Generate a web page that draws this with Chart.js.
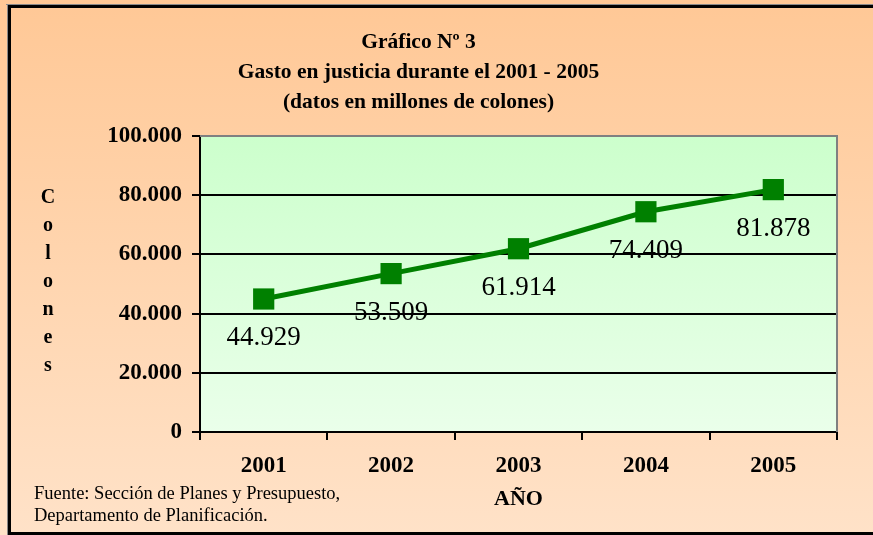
<!DOCTYPE html>
<html>
<head>
<meta charset="utf-8">
<script src="https://cdn.jsdelivr.net/npm/chart.js@4/dist/chart.umd.min.js"></script>
<style>
  html, body { margin: 0; padding: 0; background: #fff; }
  #wrap { width: 873px; height: 535px; }
</style>
</head>
<body>
<div id="wrap"><canvas id="gastoChart" width="873" height="535"></canvas></div>
<script>
// data
const years = ['2001', '2002', '2003', '2004', '2005'];
const gasto = [44929, 53509, 61914, 74409, 81878];
const gastoLabels = ['44.929', '53.509', '61.914', '74.409', '81.878'];
const yTickLabels = ['0', '20.000', '40.000', '60.000', '80.000', '100.000'];
const titleLines = ['Gráfico Nº 3', 'Gasto en justicia durante el 2001 - 2005', '(datos en millones de colones)'];
const yAxisTitle = 'Colones';
const xAxisTitle = 'AÑO';
const sourceLines = ['Fuente: Sección de Planes y Presupuesto,', 'Departamento de Planificación.'];

const serif = '"Liberation Serif", "Times New Roman", serif';

// backgrounds, frame, vertical axis title, data labels and source note
const decorPlugin = {
    id: 'decor',
    beforeDraw(chart) {
        const ctx = chart.ctx;
        const a = chart.chartArea;
        ctx.save();
        // outer peach gradient
        let g = ctx.createLinearGradient(0, 0, 0, chart.height);
        g.addColorStop(0, '#ffc896');
        g.addColorStop(1, '#ffe2c8');
        ctx.fillStyle = g;
        ctx.fillRect(0, 0, chart.width, chart.height);
        // outer frame
        ctx.fillStyle = '#888';
        ctx.fillRect(6, 4, chart.width, 1);
        ctx.fillRect(7, 4, 1, chart.height);
        ctx.fillStyle = '#000';
        ctx.fillRect(8, 5, chart.width, 3);
        ctx.fillRect(8, 5, 3, chart.height);
        ctx.fillRect(8, chart.height - 3, chart.width, 3);
        // plot area green gradient
        g = ctx.createLinearGradient(0, a.top, 0, a.bottom);
        g.addColorStop(0, '#ccffcc');
        g.addColorStop(1, '#eaffea');
        ctx.fillStyle = g;
        ctx.fillRect(a.left, a.top, a.right - a.left, a.bottom - a.top);
        ctx.restore();
    },
    afterDraw(chart) {
        const ctx = chart.ctx;
        const a = chart.chartArea;
        ctx.save();
        // gray top / right border of plot area
        ctx.strokeStyle = '#808080';
        ctx.lineWidth = 2;
        ctx.beginPath();
        ctx.moveTo(a.left, a.top);
        ctx.lineTo(a.right, a.top);
        ctx.lineTo(a.right, a.bottom);
        ctx.stroke();

        // "Colones" written top to bottom
        ctx.fillStyle = '#000';
        ctx.font = 'bold 20px ' + serif;
        ctx.textAlign = 'center';
        ctx.textBaseline = 'middle';
        yAxisTitle.split('').forEach((ch, i) => {
            ctx.fillText(ch, 48, 198 + i * 28);
        });

        // source note
        ctx.font = '18.5px ' + serif;
        ctx.textAlign = 'left';
        sourceLines.forEach((line, i) => {
            ctx.fillText(line, 34, 494 + i * 22);
        });
        ctx.restore();
    },
    afterDatasetsDraw(chart) {
        const ctx = chart.ctx;
        const meta = chart.getDatasetMeta(0);
        ctx.save();
        ctx.fillStyle = '#000';
        ctx.font = '27px ' + serif;
        ctx.textAlign = 'center';
        ctx.textBaseline = 'middle';
        meta.data.forEach((pt, i) => {
            ctx.fillText(gastoLabels[i], pt.x, pt.y + 39);
        });
        ctx.restore();
    }
};

const ctx = document.getElementById('gastoChart').getContext('2d');
new Chart(ctx, {
    type: 'line',
    data: {
        labels: years,
        datasets: [{
            data: gasto,
            borderColor: '#008000',
            backgroundColor: '#008000',
            borderWidth: 5,
            pointStyle: 'rect',
            pointRadius: 15,
            pointHoverRadius: 15,
            pointBorderWidth: 0,
            tension: 0
        }]
    },
    options: {
        responsive: false,
        animation: false,
        layout: { padding: { top: 0, right: 36, bottom: 0, left: 0 } },
        plugins: {
            legend: { display: false },
            tooltip: { enabled: false },
            title: {
                display: true,
                text: titleLines,
                color: '#000',
                font: { family: serif, size: 21.5, weight: 'bold', lineHeight: 1.395 },
                padding: { top: 27, bottom: 19 }
            }
        },
        scales: {
            x: {
                offset: true,
                grid: {
                    offset: true,
                    drawOnChartArea: false,
                    color: '#000',
                    lineWidth: 2,
                    tickLength: 8
                },
                border: { color: '#000', width: 2 },
                ticks: {
                    color: '#000',
                    font: { family: serif, size: 23, weight: 'bold' },
                    padding: 12
                },
                title: {
                    display: true,
                    text: xAxisTitle,
                    color: '#000',
                    font: { family: serif, size: 22, weight: 'bold' },
                    padding: { top: 0, bottom: 22 }
                },
                afterFit(scale) { scale.height = 103; }
            },
            y: {
                min: 0,
                max: 100000,
                grid: {
                    color: '#000',
                    lineWidth: 2,
                    tickLength: 8
                },
                border: { color: '#000', width: 2 },
                ticks: {
                    stepSize: 20000,
                    color: '#000',
                    font: { family: serif, size: 23, weight: 'bold' },
                    padding: 10,
                    callback: (v) => yTickLabels[Math.round(v / 20000)]
                },
                afterFit(scale) { scale.width = 200; }
            }
        }
    },
    plugins: [decorPlugin]
});
</script>
</body>
</html>
